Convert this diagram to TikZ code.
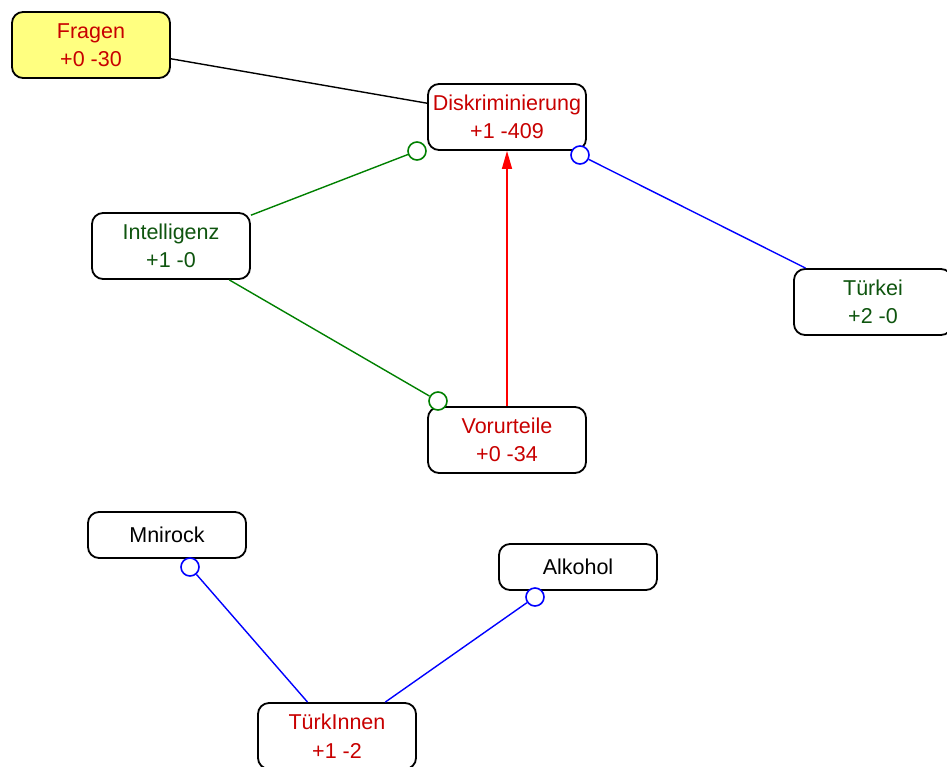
\documentclass[tikz,border=0pt]{standalone}
\usepackage{fontspec}
\setmainfont{Liberation Sans}
\usetikzlibrary{arrows.meta}
\definecolor{txtred}{RGB}{200,0,0}
\definecolor{txtgreen}{RGB}{15,85,15}
\definecolor{lngreen}{RGB}{0,128,0}
\definecolor{lnblue}{RGB}{0,0,255}
\definecolor{lnred}{RGB}{255,0,0}
\definecolor{notefill}{RGB}{255,255,128}
\begin{document}
\begin{tikzpicture}[x=1pt,y=-1pt,
  concept/.style={draw=black,line width=1.8pt,rounded corners=11pt,fill=white,
    minimum width=158pt,minimum height=66pt,inner sep=0pt,align=center,
    font=\fontsize{21.5}{28.5}\selectfont},
  single/.style={concept,minimum height=46pt},
  endring/.style={circle,draw,line width=1.6pt,fill=white,minimum size=18pt,inner sep=0pt},
  link/.style={line width=1.4pt}]
\useasboundingbox (0,0) rectangle (947,766);

% concept boxes
\node[concept,fill=notefill,text=txtred] (fragen) at (91,45) {Fragen\\+0 -30};
\node[concept,text=txtred] (disk) at (507,117) {Diskriminierung\\+1 -409};
\node[concept,text=txtgreen] (intel) at (171,246) {Intelligenz\\+1 -0};
\node[concept,text=txtgreen] (tuerkei) at (873,302) {Türkei\\+2 -0};
\node[concept,text=txtred] (vorurteile) at (507,440) {Vorurteile\\+0 -34};
\node[single] (mnirock) at (167,535) {Mnirock};
\node[single] (alkohol) at (578,567) {Alkohol};
\node[concept,text=txtred] (tuerkinnen) at (337,736) {TürkInnen\\+1 -2};

% ring ends of the associations
\node[endring,draw=lngreen] (rDiskIntel) at (417,151) {};
\node[endring,draw=lnblue] (rDiskTuerkei) at (580,155) {};
\node[endring,draw=lngreen] (rVorIntel) at (438,401) {};
\node[endring,draw=lnblue] (rMnirock) at (190,567) {};
\node[endring,draw=lnblue] (rAlkohol) at (535,597) {};

% connectors
\draw[link,black] (fragen) -- (disk);
\draw[link,lngreen] (intel) -- (rDiskIntel);
\draw[link,lngreen] (intel) -- (rVorIntel);
\draw[link,lnblue] (tuerkei) -- (rDiskTuerkei);
\draw[link,lnblue] (tuerkinnen) -- (rMnirock);
\draw[link,lnblue] (tuerkinnen) -- (rAlkohol);
\draw[link,lnred,-{Triangle[length=18pt,width=10pt]}] (vorurteile.north) -- (disk.south);
\end{tikzpicture}
\end{document}
